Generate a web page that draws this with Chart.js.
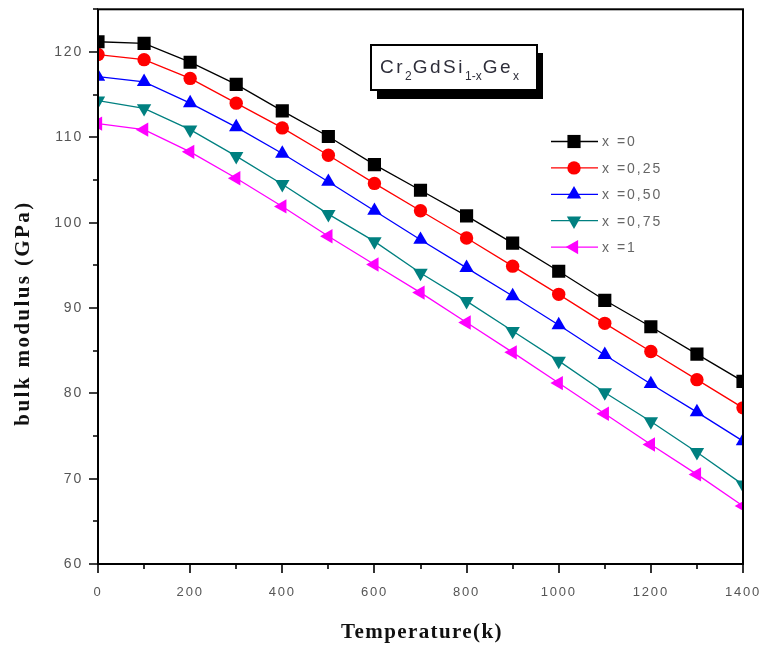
<!DOCTYPE html>
<html>
<head>
<meta charset="utf-8">
<script src="https://cdn.jsdelivr.net/npm/chart.js@4.4.1/dist/chart.umd.min.js"></script>
<style>
  html, body { margin: 0; padding: 0; background: #fff; }
  #wrap { width: 768px; height: 646px; position: relative; }
</style>
</head>
<body>
<div id="wrap"><canvas id="bulkChart" width="768" height="646"></canvas></div>
<script>
// Temperature grid (K) and bulk modulus (GPa) per Ge fraction
const temps = [0, 100, 200, 300, 400, 500, 600, 700, 800, 900, 1000, 1100, 1200, 1300, 1400];
const bmX0   = [121.2, 121.0, 118.8, 116.2, 113.1, 110.1, 106.8, 103.8, 100.8, 97.6, 94.3, 90.9, 87.8, 84.6, 81.4];
const bmX025 = [119.7, 119.1, 116.9, 114.0, 111.1, 107.9, 104.6, 101.4, 98.2, 94.9, 91.6, 88.2, 84.9, 81.6, 78.3];
const bmX050 = [117.1, 116.5, 114.0, 111.2, 108.1, 104.8, 101.4, 98.0, 94.7, 91.4, 88.0, 84.5, 81.1, 77.8, 74.4];
const bmX075 = [114.3, 113.4, 110.9, 107.8, 104.5, 101.0, 97.8, 94.1, 90.8, 87.3, 83.8, 80.1, 76.7, 73.1, 69.3];
const bmX1   = [111.6, 110.9, 108.3, 105.2, 101.9, 98.4, 95.1, 91.8, 88.3, 84.8, 81.2, 77.6, 74.0, 70.5, 66.8];

const seriesLabels = ['x =0', 'x =0,25', 'x =0,50', 'x =0,75', 'x =1'];
const yTicks = [60, 70, 80, 90, 100, 110, 120];
const xTicks = [0, 200, 400, 600, 800, 1000, 1200, 1400];

const styles = [
  { color: '#000000', pointStyle: 'rect', radius: 9.3, rotation: 0 },
  { color: '#ff0000', pointStyle: 'circle', radius: 6.7, rotation: 0 },
  { color: '#0000ff', pointStyle: 'triangle', radius: 8.3, rotation: 0 },
  { color: '#008080', pointStyle: 'triangle', radius: 8.3, rotation: 180 },
  { color: '#ff00ff', pointStyle: 'triangle', radius: 8.3, rotation: 270 }
];

function toPoints(vals) {
  return temps.map((t, i) => ({ x: t, y: vals[i] }));
}

const datasets = [bmX0, bmX025, bmX050, bmX075, bmX1].map((vals, i) => ({
  label: seriesLabels[i],
  data: toPoints(vals),
  borderColor: styles[i].color,
  backgroundColor: styles[i].color,
  pointBackgroundColor: styles[i].color,
  pointBorderColor: styles[i].color,
  pointStyle: styles[i].pointStyle,
  pointRadius: styles[i].radius,
  pointRotation: styles[i].rotation,
  pointBorderWidth: 0,
  borderWidth: 1.3,
  tension: 0,
  clip: 0
}));

// frame, tick marks, axis titles, legend and the formula box
const decorations = {
  id: 'decorations',
  beforeDraw(chart) {
    chart.ctx.letterSpacing = '1.8px';
  },
  afterDraw(chart) {
    const ctx = chart.ctx;
    const a = chart.chartArea;
    const xs = chart.scales.x, ys = chart.scales.y;
    ctx.save();
    ctx.letterSpacing = '0px';

    // axes frame
    ctx.strokeStyle = '#000';
    ctx.lineWidth = 2;
    ctx.strokeRect(a.left, a.top, a.right - a.left, a.bottom - a.top);

    // tick marks, major and minor
    ctx.lineWidth = 1.6;
    ctx.beginPath();
    for (let v = 0; v <= 1400; v += 100) {
      const px = Math.round(xs.getPixelForValue(v));
      const len = v % 200 === 0 ? 9 : 5;
      ctx.moveTo(px, a.bottom);
      ctx.lineTo(px, a.bottom + len);
    }
    for (let v = 60; v <= 125; v += 5) {
      const py = Math.round(ys.getPixelForValue(v));
      const len = v % 10 === 0 ? 9 : 5;
      ctx.moveTo(a.left, py);
      ctx.lineTo(a.left - len, py);
    }
    ctx.stroke();

    // axis titles
    ctx.fillStyle = '#111';
    ctx.font = 'bold 21px "Liberation Serif", "DejaVu Serif", serif';
    ctx.textAlign = 'center';
    ctx.textBaseline = 'middle';
    ctx.letterSpacing = '1.4px';
    ctx.fillText('Temperature(k)', 422, 633);
    ctx.save();
    ctx.translate(24, 313);
    ctx.rotate(-Math.PI / 2);
    ctx.letterSpacing = '2.4px';
    ctx.fillText('bulk modulus (GPa)', 0, 0);
    ctx.restore();

    // legend: line with marker, then label
    ctx.font = '14px "Liberation Sans", Arial, sans-serif';
    ctx.textAlign = 'left';
    ctx.letterSpacing = '2px';
    chart.data.datasets.forEach((ds, i) => {
      const y = 141.5 + i * 26.4;
      ctx.strokeStyle = ds.borderColor;
      ctx.lineWidth = 1.3;
      ctx.beginPath();
      ctx.moveTo(551, y);
      ctx.lineTo(598, y);
      ctx.stroke();
      ctx.fillStyle = ds.borderColor;
      Chart.helpers.drawPoint(ctx, {
        pointStyle: ds.pointStyle,
        radius: ds.pointRadius,
        rotation: ds.pointRotation,
        borderWidth: 0
      }, 574, y);
      ctx.fillStyle = '#666';
      ctx.fillText(ds.label, 602, y + 1);
    });

    // formula box with drop shadow
    ctx.letterSpacing = '0px';
    ctx.fillStyle = '#000';
    ctx.fillRect(377, 53, 166, 46);
    ctx.fillStyle = '#fff';
    ctx.fillRect(371, 45, 166, 45);
    ctx.strokeStyle = '#000';
    ctx.lineWidth = 2;
    ctx.strokeRect(371, 45, 166, 45);

    ctx.fillStyle = '#2e2e3a';
    ctx.textBaseline = 'alphabetic';
    const parts = [
      ['Cr', false], ['2', true], ['GdSi', false], ['1-x', true], ['Ge', false], ['x', true]
    ];
    let cx = 380;
    parts.forEach(([txt, sub]) => {
      ctx.font = sub ? '12px "Liberation Sans", Arial, sans-serif' : '19px "Liberation Sans", Arial, sans-serif';
      ctx.letterSpacing = sub ? '0px' : '2.5px';
      ctx.fillText(txt, cx, sub ? 80 : 73);
      cx += ctx.measureText(txt).width + (sub ? 1 : 0);
    });
    ctx.restore();
  }
};

new Chart(document.getElementById('bulkChart'), {
  type: 'line',
  data: { datasets },
  options: {
    responsive: false,
    animation: false,
    layout: { padding: { top: 7, right: 25, left: 0, bottom: 0 } },
    plugins: { legend: { display: false }, tooltip: { enabled: false } },
    scales: {
      x: {
        type: 'linear',
        min: 0,
        max: 1400,
        afterBuildTicks: s => { s.ticks = xTicks.map(v => ({ value: v })); },
        afterFit: s => { s.height = 82; s.paddingLeft = 0; s.paddingRight = 0; },
        grid: { display: false, drawTicks: false },
        border: { display: false },
        ticks: {
          padding: 21,
          maxRotation: 0,
          color: '#555',
          callback: v => String(v),
          font: { family: '"Liberation Sans", Arial, sans-serif', size: 13 }
        }
      },
      y: {
        type: 'linear',
        min: 60,
        max: 125,
        afterBuildTicks: s => { s.ticks = yTicks.map(v => ({ value: v })); },
        afterFit: s => { s.width = 98; s.paddingTop = 0; s.paddingBottom = 0; },
        grid: { display: false, drawTicks: false },
        border: { display: false },
        ticks: {
          padding: 15,
          color: '#555',
          callback: v => String(v),
          font: { family: '"Liberation Sans", Arial, sans-serif', size: 14 }
        }
      }
    }
  },
  plugins: [decorations]
});
</script>
</body>
</html>
